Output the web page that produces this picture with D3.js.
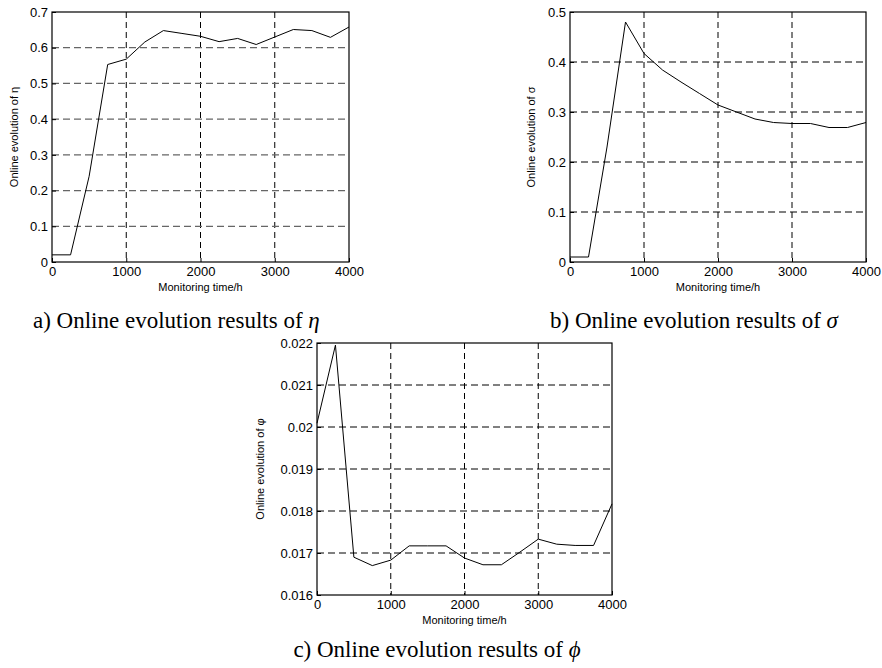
<!DOCTYPE html>
<html>
<head>
<meta charset="utf-8">
<script src="https://cdn.jsdelivr.net/npm/d3@7"></script>
<style>
  body { margin: 0; background: #fff; }
  svg text { font-family: "Liberation Sans", Arial, sans-serif; }
  svg text.caption { font-family: "Liberation Serif", "Times New Roman", serif; font-size: 23px; }
</style>
</head>
<body>
<svg id="chart" width="882" height="668"></svg>
<script>
// monitoring time (h), one sample every 250 h
const hours = [0, 250, 500, 750, 1000, 1250, 1500, 1750, 2000, 2250, 2500, 2750, 3000, 3250, 3500, 3750, 4000];
const etaValues = [0.02, 0.02, 0.24, 0.553, 0.568, 0.616, 0.648, 0.64, 0.632, 0.617, 0.626, 0.609, 0.630, 0.651, 0.648, 0.629, 0.658];
const sigmaValues = [0.01, 0.01, 0.23, 0.48, 0.417, 0.384, 0.36, 0.337, 0.314, 0.30, 0.286, 0.279, 0.277, 0.277, 0.269, 0.269, 0.279];
const phiValues = [0.02009, 0.02195, 0.01690, 0.01670, 0.01683, 0.01717, 0.01717, 0.01717, 0.01688, 0.01672, 0.01672, 0.01702, 0.01733, 0.01721, 0.01718, 0.01718, 0.01817];

const xTicks = [0, 1000, 2000, 3000, 4000];
const etaTicks = [0, 0.1, 0.2, 0.3, 0.4, 0.5, 0.6, 0.7];
const sigmaTicks = [0, 0.1, 0.2, 0.3, 0.4, 0.5];
const phiTicks = [0.016, 0.017, 0.018, 0.019, 0.02, 0.021, 0.022];

const svg = d3.select("#chart");

function drawPanel(opt) {
    const g = svg.append("g");
    const x = d3.scaleLinear().domain([0, 4000]).range([opt.left, opt.right]);
    const y = d3.scaleLinear().domain(opt.yDomain).range([opt.bottom, opt.top]);

    // grid
    g.selectAll(".vgrid").data(xTicks.slice(1, -1)).enter().append("line")
        .attr("x1", d => x(d)).attr("x2", d => x(d))
        .attr("y1", opt.top).attr("y2", opt.bottom)
        .attr("stroke", "#000").attr("stroke-width", 1)
        .attr("stroke-dasharray", "6,4");
    g.selectAll(".hgrid").data(opt.yTicks.slice(1, -1)).enter().append("line")
        .attr("x1", opt.left).attr("x2", opt.right)
        .attr("y1", d => y(d)).attr("y2", d => y(d))
        .attr("stroke", opt.hGridColor).attr("stroke-width", opt.hGridWidth)
        .attr("stroke-dasharray", "7,4");

    // axes with inward ticks
    g.append("g").attr("transform", `translate(0,${opt.bottom})`)
        .call(d3.axisBottom(x).tickValues(xTicks).tickSize(-4).tickPadding(5).tickFormat(d3.format("d")))
        .call(a => a.select(".domain").remove())
        .call(a => a.selectAll("text").attr("font-size", 13).attr("fill", "#000"));
    g.append("g").attr("transform", `translate(${opt.left},0)`)
        .call(d3.axisLeft(y).tickValues(opt.yTicks).tickSize(-4).tickPadding(4).tickFormat(opt.yFormat))
        .call(a => a.select(".domain").remove())
        .call(a => a.selectAll("text").attr("font-size", 13).attr("fill", "#000"));

    // frame
    g.append("rect")
        .attr("x", opt.left).attr("y", opt.top)
        .attr("width", opt.right - opt.left).attr("height", opt.bottom - opt.top)
        .attr("fill", "none").attr("stroke", "#000").attr("stroke-width", 1.2);

    // series
    const line = d3.line().x((d, i) => x(hours[i])).y(d => y(d));
    g.append("path").datum(opt.values)
        .attr("d", line).attr("fill", "none")
        .attr("stroke", "#000").attr("stroke-width", 1);

    // labels
    g.append("text")
        .attr("x", (opt.left + opt.right) / 2).attr("y", opt.bottom + 29)
        .attr("text-anchor", "middle").attr("font-size", 11)
        .text("Monitoring time/h");
    g.append("text")
        .attr("transform", `translate(${opt.yLabelX},${(opt.top + opt.bottom) / 2}) rotate(-90)`)
        .attr("text-anchor", "middle").attr("font-size", 11)
        .text("Online evolution of " + opt.symbol);

    const cap = svg.append("text").attr("class", "caption")
        .attr("x", opt.capX).attr("y", opt.capY)
        .attr("text-anchor", opt.capAnchor);
    cap.append("tspan").text(opt.capText + " ");
    cap.append("tspan").attr("font-style", "italic").text(opt.capSymbol);
}

drawPanel({
    left: 52, right: 349, top: 12, bottom: 262,
    yDomain: [0, 0.7], yTicks: etaTicks, yFormat: d3.format(".1~f"),
    values: etaValues, hGridColor: "#666", hGridWidth: 1.3,
    yLabelX: 18, symbol: "η",
    capX: 33, capY: 328, capAnchor: "start",
    capText: "a) Online evolution results of", capSymbol: "η"
});

drawPanel({
    left: 570, right: 866, top: 12, bottom: 262,
    yDomain: [0, 0.5], yTicks: sigmaTicks, yFormat: d3.format(".1~f"),
    values: sigmaValues, hGridColor: "#000", hGridWidth: 1,
    yLabelX: 535, symbol: "σ",
    capX: 550, capY: 328, capAnchor: "start",
    capText: "b) Online evolution results of", capSymbol: "σ"
});

drawPanel({
    left: 317, right: 612, top: 343, bottom: 595,
    yDomain: [0.016, 0.022], yTicks: phiTicks, yFormat: d3.format(".3~f"),
    values: phiValues, hGridColor: "#000", hGridWidth: 1,
    yLabelX: 264, symbol: "φ",
    capX: 437, capY: 657, capAnchor: "middle",
    capText: "c) Online evolution results of", capSymbol: "ϕ"
});
</script>
</body>
</html>
